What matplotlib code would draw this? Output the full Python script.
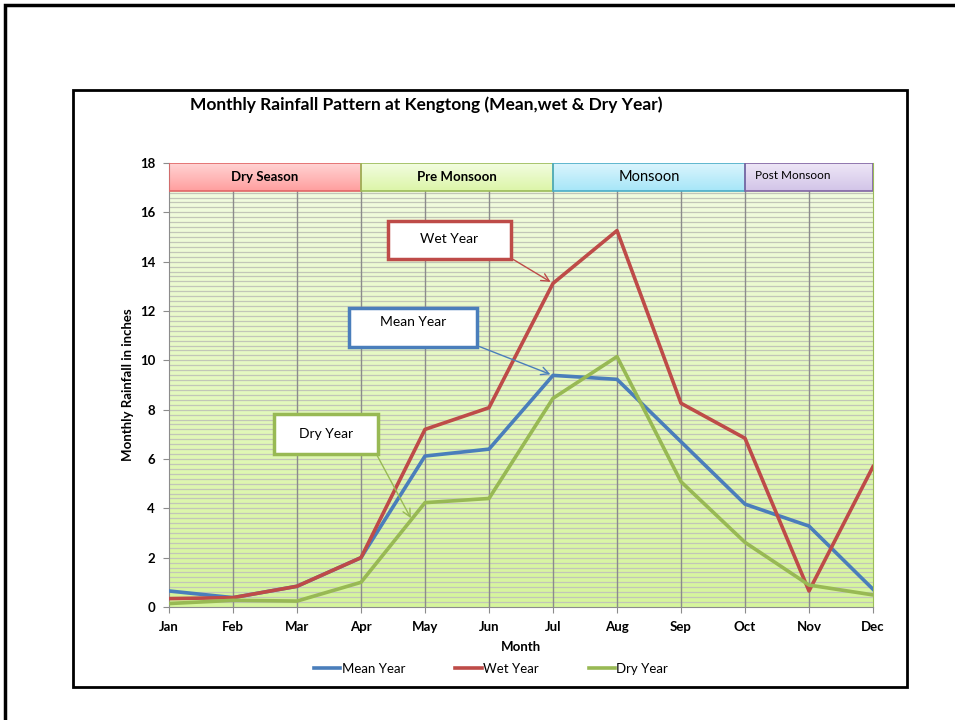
import matplotlib.pyplot as plt
import matplotlib.patches as patches
from matplotlib.colors import LinearSegmentedColormap
import numpy as np

plt.rcParams['font.family'] = ['Lato', 'DejaVu Sans']

months = ['Jan', 'Feb', 'Mar', 'Apr', 'May', 'Jun', 'Jul', 'Aug', 'Sep', 'Oct', 'Nov', 'Dec']
mean_year = [0.65, 0.38, 0.84, 2.0, 6.12, 6.4, 9.39, 9.23, 6.7, 4.17, 3.28, 0.72]
wet_year = [0.34, 0.38, 0.84, 2.0, 7.2, 8.08, 13.12, 15.26, 8.26, 6.84, 0.65, 5.69]
dry_year = [0.14, 0.27, 0.24, 1.0, 4.23, 4.4, 8.46, 10.15, 5.08, 2.62, 0.89, 0.49]

seasons = ['Dry Season', 'Pre Monsoon', 'Monsoon', 'Post Monsoon']
season_start = [0, 3, 6, 9]
season_end = [3, 6, 9, 11]

c_mean = '#4a7ebb'
c_wet = '#be4b48'
c_dry = '#98b954'

fig = plt.figure(figsize=(9.55, 7.2), dpi=100)
ax = fig.add_axes([169 / 955, 1 - 607 / 720, 704 / 955, 444 / 720])

# frames around the chart
fig.patches.append(patches.Rectangle((5 / 955, -0.05), 1.1, 1 - 5 / 720 + 0.05, transform=fig.transFigure,
                                     fill=False, edgecolor='black', linewidth=2.5))
fig.patches.append(patches.Rectangle((73 / 955, 1 - 687 / 720), 834 / 955, 597 / 720, transform=fig.transFigure,
                                     fill=False, edgecolor='black', linewidth=2))

x = np.arange(len(months))

# gradient plot background
grad = np.linspace(0, 1, 256).reshape(-1, 1)
bg = LinearSegmentedColormap.from_list('bg', ['#d6f59c', '#f3fce3'])
ax.imshow(grad, extent=[0, 11, 0, 18], origin='lower', aspect='auto', cmap=bg, zorder=0)

# grid
for yv in np.arange(0.2, 18, 0.2):
    ax.axhline(yv, color='#c2c6b8', linewidth=0.9, zorder=1)
for xv in x[1:-1]:
    ax.axvline(xv, color='#8c8c8c', linewidth=1.0, zorder=1)

# season boxes
season_cols = [('#ff9e9e', '#ffd6d6', '#e06666'),
               ('#dcf5a8', '#f3fde2', '#9bbb59'),
               ('#a6e6f8', '#ddf5fd', '#4bacc6'),
               ('#d2c4e8', '#efe8f7', '#8064a2')]
for name, s, e, (c1, c2, ec) in zip(seasons, season_start, season_end, season_cols):
    cm = LinearSegmentedColormap.from_list(name, [c1, c2])
    ax.imshow(grad, extent=[s, e, 16.85, 18], origin='lower', aspect='auto', cmap=cm, zorder=2)
    ax.add_patch(patches.Rectangle((s, 16.85), e - s, 1.15, fill=False, edgecolor=ec, linewidth=1.2, zorder=3))
ax.text(1.5, 17.42, 'Dry Season', ha='center', va='center', fontsize=9.5, fontweight='bold', zorder=4)
ax.text(4.5, 17.42, 'Pre Monsoon', ha='center', va='center', fontsize=9.5, fontweight='bold', zorder=4)
ax.text(7.5, 17.42, 'Monsoon', ha='center', va='center', fontsize=10.5, zorder=4)
ax.text(9.15, 17.5, 'Post Monsoon', ha='left', va='center', fontsize=8.5, zorder=4)

# series
ax.plot(x, mean_year, color=c_mean, linewidth=2.6, label='Mean Year', zorder=5)
ax.plot(x, wet_year, color=c_wet, linewidth=2.6, label='Wet Year', zorder=5)
ax.plot(x, dry_year, color=c_dry, linewidth=2.6, label='Dry Year', zorder=5)

# callouts
def callout(text, x0, x1, y0, y1, tx, ty, ax_x, ax_y, tgt, col):
    ax.add_patch(patches.Rectangle((x0, y0), x1 - x0, y1 - y0, facecolor='white', edgecolor=col,
                                   linewidth=2.5, zorder=6))
    ax.text(tx, ty, text, ha='center', va='center', fontsize=10, zorder=7)
    ax.annotate('', xy=tgt, xytext=(ax_x, ax_y),
                arrowprops=dict(arrowstyle='->', color=col, linewidth=1, mutation_scale=14), zorder=6)

callout('Wet Year', 3.42, 5.34, 14.1, 15.65, 4.38, 14.9, 5.34, 14.15, (6, 13.12), c_wet)
callout('Mean Year', 2.81, 4.81, 10.54, 12.12, 3.81, 11.55, 4.81, 10.6, (6, 9.39), c_mean)
callout('Dry Year', 1.64, 3.27, 6.2, 7.82, 2.45, 7.0, 3.23, 6.25, (3.8, 3.5), c_dry)

ax.set_xlim(0, 11)
ax.set_ylim(0, 18)
ax.set_xticks(x)
ax.set_xticklabels(months, fontweight='bold', fontsize=9.5)
ax.set_yticks(np.arange(0, 19, 2))
ax.set_yticklabels([str(v) for v in range(0, 19, 2)], fontweight='bold', fontsize=9.5)
ax.tick_params(axis='both', length=4, color='#8c8c8c', pad=6)
for side in ['left', 'bottom']:
    ax.spines[side].set_color('#8c8c8c')
ax.spines['right'].set_color('#9bbb59')
ax.spines['top'].set_visible(False)

ax.set_ylabel('Monthly Rainfall in inches', fontweight='bold', fontsize=9.5, labelpad=4)
ax.set_xlabel('Month', fontweight='bold', fontsize=9.5, labelpad=6)

fig.text(190 / 955, 1 - 105 / 720, 'Monthly Rainfall Pattern at Kengtong (Mean,wet & Dry Year)',
         fontsize=12.5, fontweight='bold', ha='left', va='center')

ax.legend(loc='center', bbox_to_anchor=(491 / 955, 1 - 669 / 720), bbox_transform=fig.transFigure,
          ncol=3, frameon=False, fontsize=9.5, handlelength=2.0, handletextpad=0.1, columnspacing=3.8)

fig.savefig('out.png', dpi=100)
